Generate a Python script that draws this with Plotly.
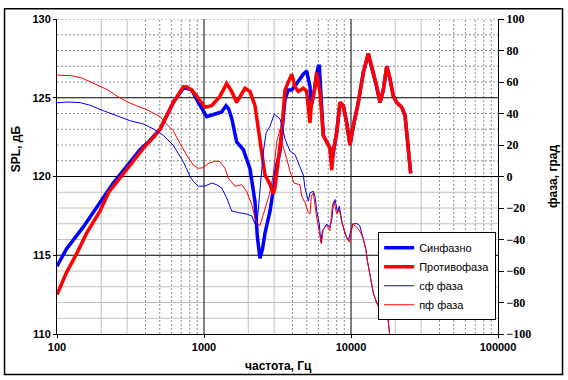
import math
import plotly.graph_objects as go

# ---------------- data ----------------
# SPL, in-phase (Синфазно), dB
sf_spl_freq = [100, 116, 151, 196, 242, 284, 367, 430, 502, 618, 723, 762, 824, 915,
               1043, 1220, 1319, 1412, 1470, 1543, 1668, 1851, 2055, 2223, 2305, 2404, 2500,
               2600, 2812, 3041, 3124, 3289, 3378, 3556, 3746, 3951, 4272, 4738, 4995, 5260,
               5370, 5550, 5846, 5993, 6091, 6229, 6479, 6834, 7193, 7390, 7580, 7992, 8418,
               8863, 9350, 9845, 10366, 11212, 12122, 13114, 13400, 14180, 14950, 15750,
               16590, 17500, 18420, 19400, 20460, 22130, 23290, 23930, 25190, 25470]
sf_spl = [114.3, 115.4, 116.8, 118.4, 119.6, 120.4, 121.7, 122.3, 123.0, 124.7, 125.6,
          125.6, 125.5, 124.7, 123.8, 124.0, 124.1, 124.5, 124.3, 123.7, 122.2, 121.7, 120.5,
          118.4, 116.2, 114.8, 115.4, 116.4, 117.8, 119.9, 120.7, 121.6, 122.8, 124.9, 125.5,
          125.5, 125.9, 126.5, 126.7, 125.7, 124.5, 125.1, 126.5, 127.0, 127.0, 125.1, 122.6,
          122.2, 121.8, 120.9, 121.6, 122.8, 124.7, 124.5, 123.4, 122.0, 123.2, 124.7, 126.6,
          127.8, 127.4, 126.6, 125.7, 124.7, 125.5, 127.0, 126.2, 125.1, 124.7, 124.4, 123.9,
          122.8, 120.7, 120.2]

# SPL, anti-phase (Противофаза), dB
pf_spl_freq = [100, 116, 136, 159, 196, 225, 284, 387, 455, 502, 618, 723, 762, 824,
               892, 1016, 1128, 1285, 1426, 1543, 1668, 1758, 1901, 2055, 2223, 2343, 2468,
               2533, 2600, 2812, 2963, 3041, 3204, 3378, 3556, 3746, 3951, 4159, 4380, 4738,
               4995, 5260, 5370, 5689, 5846, 6150, 6479, 6834, 7193, 7390, 7580, 7992, 8418,
               8863, 9350, 9845, 10366, 11212, 12122, 13114, 13400, 14180, 14950, 15750,
               16590, 17500, 18420, 19400, 20460, 22130, 23290, 23930, 25190, 25470]
pf_spl = [112.5, 113.9, 115.1, 116.4, 117.8, 119.0, 120.2, 121.8, 122.5, 123.0,
          124.7, 125.7, 125.7, 125.5, 125.1, 124.4, 124.5, 125.1, 125.9, 125.4, 124.7, 125.1,
          125.6, 125.4, 124.5, 123.0, 121.4, 120.5, 120.1, 119.5, 118.9, 119.3, 121.2, 122.8,
          125.5, 126.0, 126.5, 125.7, 125.4, 125.6, 125.4, 123.4, 124.5, 125.7, 126.6, 125.3,
          122.6, 122.2, 121.8, 120.4, 121.6, 122.8, 124.7, 124.5, 123.4, 122.0, 123.2, 124.7,
          126.6, 127.8, 127.4, 126.6, 125.7, 124.7, 125.5, 127.0, 126.2, 125.1, 124.7, 124.4,
          123.9, 122.8, 120.7, 120.2]

# phase, in-phase (сф фаза), degrees
sf_ph_freq = [100, 117, 144, 168, 208, 256, 315, 389, 452, 529, 618, 723, 803, 846, 915, 1016,
              1128, 1220, 1319, 1426, 1543, 1712, 1952, 2111, 2223, 2290, 2404, 2468, 2533,
              2650, 2812, 3008, 3289, 3380, 3550, 3851, 4159, 4498, 4738, 4865, 5125, 5260,
              5540, 5689, 5846, 6091, 6229, 6400, 6584, 6834, 7127, 7390, 7580, 7787, 8100,
              8326, 8651, 9100, 9580, 9845, 10270, 10935, 11460, 12122, 12650, 12900, 13400,
              14180, 14950, 15750, 16200, 17030, 17500, 17940, 18240, 18400]
sf_ph = [46.8, 47.3, 46.9, 45.2, 41.7, 38.6, 35.4, 33.3, 30.2, 26.1, 19.8, 9.4, 0.0, -3.1,
         -6.2, -6.0, -4.2, -5.2, -7.3, -13.5, -21.9, -22.9, -23.9, -25.0, -30.2, -31.0, -9.4,
         3.1, 15.6, 28.0, 32.0, 39.6, 36.5, 33.0, 24.0, 16.0, 14.0, 6.0, 1.0, -7.3, -15.6,
         -10.4, -9.4, -12.5, -21.9, -30.2, -41.7, -34.4, -32.3, -30.2, -32.3, -28.1, -17.7,
         -14.6, -22.9, -18.8, -28.1, -36.5, -40.6, -36.5, -30.2, -29.8, -31.2, -39.6, -46.9,
         -53.1, -61.5, -74.0, -80.2, -81.2, -79.2, -79.2, -82.3, -94.8, -99.0, -102.0]

# phase, anti-phase (пф фаза), degrees
pf_ph_freq = [100, 126, 148, 178, 219, 256, 299, 350, 410, 466, 502, 557, 618, 687, 762, 846,
              915, 989, 1070, 1188, 1285, 1389, 1463, 1625, 1805, 1951, 2111, 2223, 2300, 2404,
              2500, 2642, 2780, 2963, 3124, 3289, 3378, 3650, 3851, 4100, 4498, 4620, 4865,
              5125, 5260, 5370, 5540, 5846, 6150, 6290, 6479, 6834, 7193, 7490, 7650, 7992,
              8326, 8651, 9350, 9750, 10050, 10270, 11000, 11600, 12122, 12650, 12900, 13400,
              14180, 14950, 15750, 16200, 17030, 17500, 17940, 18240, 18400]
pf_ph = [64.4, 64.0, 62.5, 58.9, 55.2, 51.1, 47.5, 44.8, 42.3, 39.6, 38.0, 33.3, 29.0, 21.0,
         13.6, 7.3, 5.2, 5.6, 8.3, 9.8, 9.4, 5.2, -1.0, -6.2, -5.2, -9.4, -17.7, -26.0, -29.8,
         -31.2, -26.0, -17.7, -11.5, 1.0, 22.0, 30.0, 22.0, 11.5, 3.1, -4.2, -5.2, -12.5,
         -16.7, -22.9, -23.9, -12.5, -10.4, -26.0, -36.5, -42.7, -33.3, -31.2, -34.4, -17.7,
         -15.6, -23.9, -20.8, -29.2, -38.5, -41.7, -35.4, -30.2, -32.3, -35.4, -39.6, -46.9,
         -53.1, -61.5, -74.0, -80.2, -85.4, -80.2, -80.2, -83.0, -95.0, -99.0, -102.0]

# axes / ticks
x_ticks = [100, 1000, 10000, 100000]
spl_ticks = [110, 115, 120, 125, 130]
phase_ticks = [-100, -80, -60, -40, -20, 0, 20, 40, 60, 80, 100]
x_grid_solid = [200, 300, 2000, 3000, 20000, 30000]
x_grid_dot = [m * d for d in (100, 1000, 10000) for m in (4, 5, 6, 7, 8, 9)]
x_grid_major = [1000, 10000]
y_grid_solid = [111, 112, 113, 114, 116, 117, 118, 119]
y_grid_dot = [121, 122, 123, 124, 126, 127, 128, 129, 130]
y_grid_major = [115, 120, 125]

X_RANGE = [2, 5]
Y_RANGE = [110, 130]
Y2_RANGE = [-100, 100]

BLUE = "#0000ff"
RED = "#ff0000"

fig = go.Figure()
fig.add_trace(go.Scatter(x=sf_spl_freq, y=sf_spl, name="Синфазно", mode="lines",
                         line=dict(color=BLUE, width=3.5), yaxis="y"))
fig.add_trace(go.Scatter(x=pf_spl_freq, y=pf_spl, name="Противофаза", mode="lines",
                         line=dict(color=RED, width=3.5), yaxis="y"))
fig.add_trace(go.Scatter(x=sf_ph_freq, y=sf_ph, name="сф фаза", mode="lines",
                         line=dict(color=BLUE, width=1), yaxis="y2"))
fig.add_trace(go.Scatter(x=pf_ph_freq, y=pf_ph, name="пф фаза", mode="lines",
                         line=dict(color=RED, width=1), yaxis="y2"))


def xfrac(v):
    return (math.log10(v) - X_RANGE[0]) / (X_RANGE[1] - X_RANGE[0])


shapes = []
for v in x_grid_solid:
    shapes.append(dict(type="line", xref="paper", yref="paper", x0=xfrac(v), x1=xfrac(v),
                       y0=0, y1=1, line=dict(color="#c0c0c0", width=1), layer="below"))
for v in x_grid_dot:
    shapes.append(dict(type="line", xref="paper", yref="paper", x0=xfrac(v), x1=xfrac(v),
                       y0=0, y1=1, line=dict(color="#909090", width=1, dash="2px,2px"),
                       layer="below"))
for v in y_grid_solid:
    shapes.append(dict(type="line", xref="paper", yref="y", x0=0, x1=1, y0=v, y1=v,
                       line=dict(color="#c0c0c0", width=1), layer="below"))
for v in y_grid_dot:
    shapes.append(dict(type="line", xref="paper", yref="y", x0=0, x1=1, y0=v, y1=v,
                       line=dict(color="#909090", width=1, dash="2px,2px"), layer="below"))
for v in x_grid_major:
    shapes.append(dict(type="line", xref="paper", yref="paper", x0=xfrac(v), x1=xfrac(v),
                       y0=0, y1=1, line=dict(color="black", width=1), layer="below"))
for v in y_grid_major:
    shapes.append(dict(type="line", xref="paper", yref="y", x0=0, x1=1, y0=v, y1=v,
                       line=dict(color="black", width=1), layer="below"))
# outer chart border
shapes.append(dict(type="rect", xref="paper", yref="paper", x0=-0.119, x1=1.1463,
                   y0=-0.1285, y1=1.0329, line=dict(color="black", width=1.5)))

tick_font = dict(family="Liberation Sans, Arial, sans-serif", size=11, color="black",
                 weight="bold")
right_font = dict(family="Liberation Serif, Times New Roman, serif", size=12, color="black",
                  weight="bold")
title_font = dict(family="Liberation Sans, Arial, sans-serif", size=12, color="black",
                  weight="bold")

fig.update_layout(
    width=568, height=380,
    margin=dict(l=57, r=70, t=15, b=46),
    paper_bgcolor="white", plot_bgcolor="white",
    showlegend=True,
    legend=dict(x=0.862, xanchor="center", y=0.323, yanchor="top",
                bgcolor="white", bordercolor="black", borderwidth=1,
                font=dict(family="Liberation Sans, Arial, sans-serif", size=11, color="black"),
                itemwidth=30, tracegroupgap=0),
    xaxis=dict(type="log", range=X_RANGE, tickvals=x_ticks,
               ticktext=[str(v) for v in x_ticks], showgrid=False, zeroline=False,
               showline=True, linecolor="black", linewidth=1, ticks="outside", ticklen=3,
               tickcolor="black", tickfont=tick_font),
    yaxis=dict(range=Y_RANGE, tickvals=spl_ticks, showgrid=False, zeroline=False,
               showline=True, linecolor="black", linewidth=1, ticks="outside", ticklen=3,
               tickcolor="black", tickfont=tick_font),
    yaxis2=dict(range=Y2_RANGE, tickvals=phase_ticks, overlaying="y", side="right",
                showgrid=False, zeroline=False, showline=True, linecolor="black", linewidth=1,
                ticks="outside", ticklen=5, tickcolor="black", tickfont=right_font),
    shapes=shapes,
    annotations=[
        dict(text="SPL, дБ", xref="paper", yref="paper", x=-0.093, y=0.59, textangle=-90,
             showarrow=False, xanchor="center", yanchor="middle", font=title_font),
        dict(text="частота, Гц", xref="paper", yref="paper", x=0.502, y=-0.100,
             showarrow=False, xanchor="center", yanchor="middle", font=title_font),
        dict(text="фаза, град", xref="paper", yref="paper", x=1.1236, y=0.50, textangle=-90,
             showarrow=False, xanchor="center", yanchor="middle", font=title_font),
    ],
)

fig.write_html("out.html",
               config={"displayModeBar": False},
               post_script="document.body.style.margin='0px';"
                           "document.body.style.overflow='hidden';")
